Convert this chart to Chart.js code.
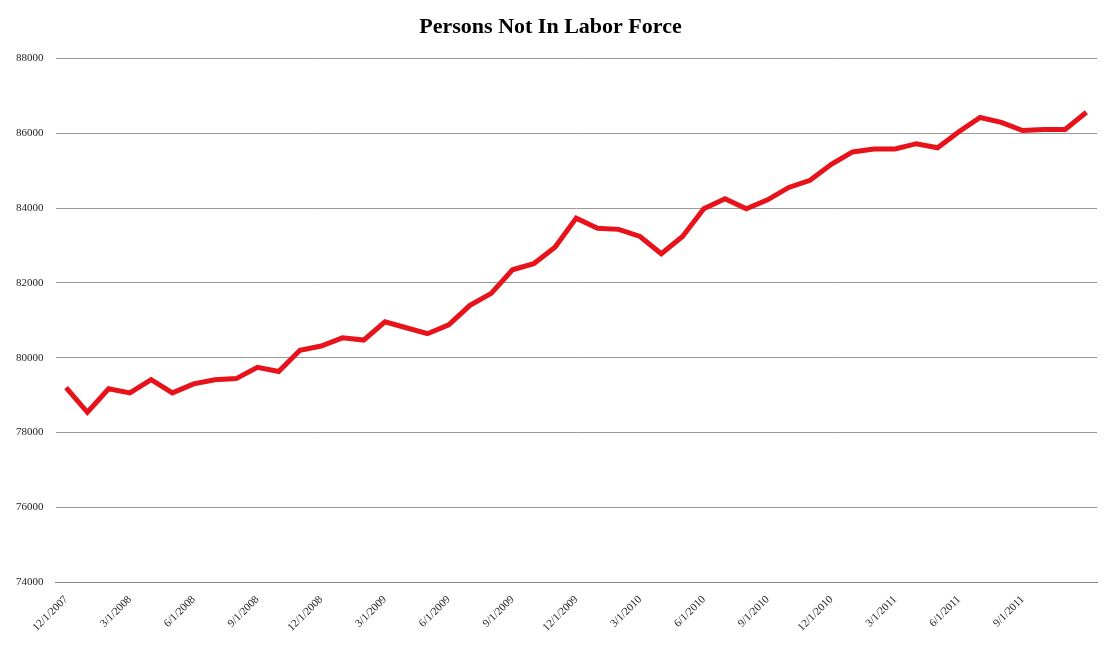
<!DOCTYPE html>
<html><head><meta charset="utf-8">
<script src="https://cdn.jsdelivr.net/npm/chart.js@4"></script>
<style>html,body{margin:0;background:#fff}#w{width:1119px;height:649px}</style>
</head><body><div id="w"><canvas id="c"></canvas></div>
<script>
const categories = ["12/1/2007","1/1/2008","2/1/2008","3/1/2008","4/1/2008","5/1/2008","6/1/2008","7/1/2008","8/1/2008","9/1/2008","10/1/2008","11/1/2008","12/1/2008","1/1/2009","2/1/2009","3/1/2009","4/1/2009","5/1/2009","6/1/2009","7/1/2009","8/1/2009","9/1/2009","10/1/2009","11/1/2009","12/1/2009","1/1/2010","2/1/2010","3/1/2010","4/1/2010","5/1/2010","6/1/2010","7/1/2010","8/1/2010","9/1/2010","10/1/2010","11/1/2010","12/1/2010","1/1/2011","2/1/2011","3/1/2011","4/1/2011","5/1/2011","6/1/2011","7/1/2011","8/1/2011","9/1/2011","10/1/2011","11/1/2011","12/1/2011"];
const values = [79200,78540,79170,79060,79410,79060,79300,79410,79440,79740,79630,80200,80310,80530,80470,80960,80800,80640,80880,81400,81720,82350,82510,82950,83730,83460,83430,83240,82780,83240,83980,84250,83980,84220,84550,84740,85170,85500,85580,85580,85720,85610,86040,86420,86290,86070,86100,86100,86560];
const yTicks = [74000,76000,78000,80000,82000,84000,86000,88000];
new Chart(document.getElementById('c'),{
 type:'line',
 data:{labels:categories,datasets:[{data:values,borderColor:'#e8121a',borderWidth:5,pointRadius:0,tension:0,fill:false}]},
 options:{responsive:true,maintainAspectRatio:false,animation:false,
  layout:{padding:{left:4,right:22,top:4,bottom:12}},
  plugins:{legend:{display:false},tooltip:{enabled:false},
   title:{display:true,text:'Persons Not In Labor Force',color:'#000',font:{family:'Liberation Serif',size:22,weight:'bold'},padding:{top:10,bottom:18}}},
  scales:{
   x:{offset:true,grid:{display:false},border:{color:'#888'},
     ticks:{autoSkip:false,maxRotation:45,minRotation:45,color:'#222',font:{family:'Liberation Serif',size:11},
       callback:(v,i)=> (i%3===0 && i<categories.length-1)?categories[i]:''}},
   y:{min:74000,max:88000,afterBuildTicks:a=>{a.ticks=yTicks.map(v=>({value:v}))},
     grid:{color:'#999',drawTicks:false},border:{display:false},
     ticks:{color:'#222',padding:12,font:{family:'Liberation Serif',size:11},callback:v=>String(v)}}
  }}
});
</script></body></html>
